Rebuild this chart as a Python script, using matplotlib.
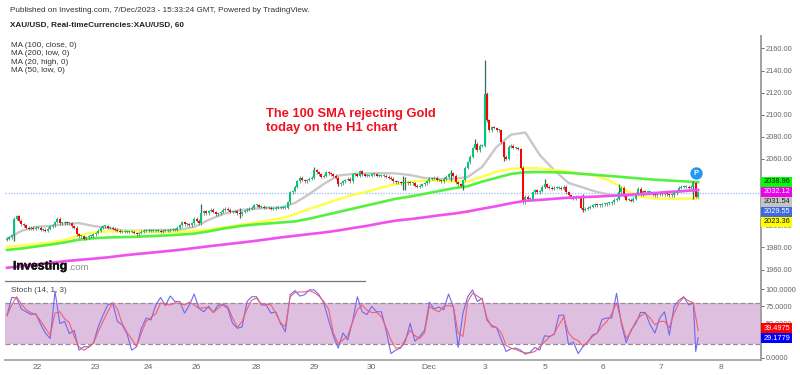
import numpy as np
import matplotlib
matplotlib.use('Agg')
import matplotlib.pyplot as plt
import matplotlib.patheffects as pe
from matplotlib.patches import Rectangle

plt.rcParams['font.family'] = ['Liberation Sans', 'DejaVu Sans']

# hourly closes, one per bar
closes = [1988, 1989, 1991, 2006, 2008, 2004, 2001, 2000, 1998, 1997, 1998, 1997,
          1998, 1998, 1996, 1996, 1995, 1997, 1999, 2000, 2003, 2006, 2002, 2002,
          2003, 2002, 2002, 1999, 1998, 1992, 1990, 1990, 1988, 1989, 1990, 1990,
          1992, 1993, 1995, 1998, 1999, 1999, 1998, 1998, 1997, 1996, 1995, 1994,
          1994, 1994, 1994, 1994, 1994, 1993, 1992, 1993, 1994, 1995, 1995, 1995,
          1995, 1995, 1995, 1995, 1994, 1995, 1995, 1995, 1996, 1996, 1996, 1998,
          2000, 2003, 2001, 2001, 2000, 2002, 2006, 2004, 2002, 2011, 2013, 2011,
          2013, 2014, 2012, 2010, 2011, 2012, 2014, 2015, 2014, 2012, 2012, 2013,
          2011, 2010, 2012, 2013, 2014, 2015, 2016, 2018, 2018, 2017, 2017, 2016,
          2016, 2016, 2015, 2015, 2016, 2016, 2016, 2016, 2016, 2021, 2030, 2031,
          2035, 2040, 2043, 2041, 2040, 2041, 2042, 2043, 2050, 2048, 2046, 2044,
          2045, 2048, 2047, 2046, 2045, 2043, 2037, 2038, 2040, 2041, 2042, 2040,
          2046, 2046, 2045, 2049, 2046, 2045, 2045, 2045, 2046, 2046, 2045, 2045,
          2045, 2045, 2044, 2043, 2042, 2040, 2039, 2039, 2038, 2038, 2038, 2039,
          2038, 2038, 2036, 2035, 2036, 2037, 2038, 2040, 2042, 2042, 2043, 2041,
          2041, 2040, 2042, 2044, 2046, 2047, 2045, 2039, 2037, 2036, 2041, 2052,
          2057, 2062, 2070, 2074, 2068, 2072, 2072, 2119, 2095, 2086, 2089, 2088,
          2086, 2086, 2075, 2062, 2060, 2071, 2072, 2070, 2070, 2069, 2052, 2021,
          2026, 2024, 2024, 2030, 2032, 2030, 2031, 2035, 2037, 2035, 2034, 2033,
          2034, 2034, 2034, 2033, 2035, 2030, 2027, 2025, 2024, 2026, 2026, 2016,
          2014, 2015, 2016, 2017, 2018, 2019, 2018, 2018, 2019, 2019, 2020, 2020,
          2021, 2023, 2024, 2030, 2034, 2027, 2023, 2023, 2022, 2024, 2029, 2033,
          2028, 2031, 2030, 2030, 2030, 2028, 2027, 2028, 2029, 2028, 2029, 2028,
          2027, 2027, 2029, 2031, 2034, 2035, 2035, 2035, 2034, 2035, 2038, 2026,
          2030]
first_open = 1987

# bars with a wick long enough to see
wick_bars = [3, 81, 97, 128, 138, 165, 166, 185, 190, 195, 199, 200, 207, 224, 240, 255, 286]
wick_highs = [2006, 2019, 2016, 2053, 2040, 2045, 2044, 2050, 2040, 2078, 2150, 2120, 2075, 2042, 2028, 2037, 2040]
wick_lows = [1986, 2006, 2007, 2044, 2036, 2032, 2032, 2040, 2032, 2070, 2074, 2094, 2058, 2034, 2012, 2024, 2024]

# moving averages, one reading every 6 bars
ma_step = 6
ma20_high = [1987.6, 1995, 1998.5, 1999.4, 2001, 2002, 1999.4, 1997.6, 1995.3, 1995, 1995.7, 1995.7,
             1996, 1998.5, 2004.8, 2010.2, 2013.4, 2014.8, 2015.7, 2016, 2020.2, 2028.3, 2037.4, 2045,
             2046.4, 2046.9, 2047.3, 2046.9, 2045.5, 2042.8, 2042, 2042, 2043.7, 2052.8, 2070.9, 2082,
             2084, 2063.6, 2050, 2038.3, 2034.2, 2030, 2027.4, 2026.5, 2027.4, 2028.3, 2029.2, 2031, 2031.5]
ma50_low = [1980.6, 1981.5, 1983, 1984.5, 1986.5, 1991, 1993.5, 1994.5, 1994.5, 1994.5, 1994, 1994,
            1994, 1995, 1996, 1998, 2000, 2002, 2004, 2006, 2010, 2015, 2019, 2023.5,
            2027.5, 2030.4, 2034, 2037.4, 2039.4, 2040.4, 2040.4, 2039.7, 2039.5, 2044, 2048.5, 2051,
            2052, 2051.5, 2050, 2048.5, 2046.5, 2044.5, 2039.5, 2031.5, 2026, 2024.3, 2024, 2024.2, 2024]
ma100_close = [1977.7, 1979, 1980.8, 1982.5, 1984.5, 1987, 1988.3, 1989, 1989.3, 1989.6, 1990.2, 1990.8,
               1991.5, 1992.5, 1994.5, 1997, 1999, 2000.5, 2001.5, 2002.5, 2003.5, 2006, 2009, 2012,
               2015, 2018, 2021, 2024, 2026, 2028.5, 2031, 2033.5, 2035.3, 2039.5, 2043, 2046.5,
               2048, 2048.2, 2048, 2047.5, 2046.5, 2045.5, 2044.5, 2043.4, 2042.3, 2041.3, 2040.5, 2039.8, 2039]
ma200_low = [1961.6, 1963, 1964.5, 1966, 1967.5, 1968.7, 1969.8, 1971, 1972.6, 1974, 1975.2, 1976.5,
             1977.8, 1979.4, 1981, 1982.5, 1984, 1985.5, 1987.2, 1989, 1990.5, 1992, 1993.5, 1995.3,
             1997.5, 1999.5, 2002, 2004.2, 2005.6, 2007.2, 2009, 2010.5, 2012.5, 2015, 2017.3, 2020,
             2022.2, 2023, 2024, 2025, 2025.5, 2026, 2026.7, 2027.5, 2028.3, 2029.2, 2030.2, 2031, 2032.1]

# stochastic, one reading every 2 bars, then the last few bars
stoch_step = 2
stoch_k = [62, 88, 87, 71, 67, 63, 64, 49, 36, 28, 97, 50, 53, 35, 40, 11, 16, 16, 21, 45, 62, 77, 80, 53,
           48, 35, 11, 16, 43, 58, 55, 77, 88, 76, 90, 82, 82, 65, 77, 93, 72, 67, 75, 66, 77, 77, 72, 50,
           43, 45, 82, 89, 89, 77, 77, 65, 67, 50, 38, 92, 98, 90, 92, 99, 99, 92, 80, 55, 32, 14, 36, 26,
           53, 89, 67, 63, 75, 67, 67, 40, 6, 11, 14, 24, 50, 24, 31, 40, 81, 71, 74, 70, 93, 74, 15, 65,
           89, 99, 82, 87, 55, 47, 44, 26, 9, 13, 14, 11, 5, 8, 15, 11, 32, 31, 34, 62, 62, 19, 23, 6,
           16, 23, 33, 36, 56, 58, 58, 94, 50, 22, 40, 50, 66, 66, 48, 36, 58, 67, 33, 75, 84, 89, 77, 80]
stoch_d = [61, 77, 89, 78, 70, 66, 63, 54, 43, 33, 65, 67, 57, 51, 31, 16, 11, 15, 21, 38, 53, 67, 80, 71,
           50, 37, 27, 16, 36, 53, 59, 64, 80, 78, 77, 80, 79, 77, 81, 77, 72, 73, 73, 66, 72, 78, 75, 58,
           44, 53, 71, 84, 87, 78, 78, 77, 65, 51, 45, 89, 95, 96, 96, 98, 95, 90, 82, 71, 36, 21, 26, 32,
           52, 70, 77, 69, 66, 66, 60, 44, 26, 14, 15, 27, 40, 32, 28, 36, 75, 70, 67, 75, 76, 75, 36, 31,
           82, 94, 90, 85, 58, 45, 44, 36, 18, 14, 12, 9, 7, 7, 9, 16, 23, 30, 35, 48, 59, 36, 28, 25,
           17, 23, 31, 36, 46, 53, 64, 80, 53, 28, 38, 53, 61, 65, 58, 48, 53, 53, 44, 65, 80, 88, 83, 80]
stoch_end_bars = [287, 288]
stoch_end_k = [9, 29.18]
stoch_end_d = [60, 39.5]

# x axis labels and the bars they sit under
date_ticks = [12.5, 36.7, 58.75, 78.75, 103.75, 127.9, 151.7, 175.8, 199, 224.2, 248.3, 272.5, 297.5]
date_labels = ['22', '23', '24', '26', '28', '29', '30', 'Dec', '3', '5', '6', '7', '8']
price_ticks = [1960, 1980, 2000, 2060, 2080, 2100, 2120, 2140, 2160]
stoch_ticks = [0, 50, 75, 100]

last_close = 2029.55
marker_bar = 287
marker_price = 2047

ma_names = ['MA (100, close, 0)', 'MA (200, low, 0)', 'MA (20, high, 0)', 'MA (50, low, 0)']
price_labels = ['2038.96', '2032.12', '2031.54', '2029.55', '2023.36']
price_label_colors = ['#00ff00', '#ee00ee', '#c4c4c4', '#4169e1', '#ffff00']
price_label_text = ['#111111', 'white', '#222222', 'white', '#111111']
stoch_labels = ['39.4975', '29.1779']
stoch_label_colors = ['#ff0000', '#0000ff']

W, H = 800, 375
GREY = '#a0a0a0'
TICK = '#666666'
SMALL = 5.3
TEXT = 5.9


def px_rect(left, top, right, bottom):
    return [left / W, 1 - bottom / H, (right - left) / W, (bottom - top) / H]


def draw_candles(ax):
    n = len(closes)
    bars = np.arange(n)
    opens = np.array([first_open] + closes[:-1], dtype=float)
    close = np.array(closes, dtype=float)
    top = np.maximum(opens, close)
    bottom = np.minimum(opens, close)
    ax.vlines(bars, bottom - 1.3, top + 1.3, color='#4c6a60', lw=0.5, zorder=3)
    ax.vlines(wick_bars, wick_lows, wick_highs, color='#3c6a5a', lw=0.9, zorder=3)
    colors = ['#00c878' if c >= o else '#ff0000' for o, c in zip(opens, close)]
    ax.bar(bars, np.maximum(top - bottom, 0.9), bottom=bottom, width=0.85, color=colors, zorder=4)


def draw_price(ax):
    ma_bars = np.arange(len(ma20_high)) * ma_step
    ax.axhline(last_close, color='#a8c4f4', lw=1, ls=(0, (1, 1)), zorder=1)
    ax.plot(ma_bars, ma20_high, color='#c8c8c8', lw=1.7, zorder=2)
    ax.plot(ma_bars, ma50_low, color='#ffff44', lw=1.7, zorder=2)
    ax.plot(ma_bars, ma100_close, color='#55f040', lw=1.9, zorder=2)
    draw_candles(ax)
    ax.plot(ma_bars, ma200_low, color='#f050f0', lw=1.9, zorder=5)
    ax.scatter([marker_bar], [marker_price], s=62, color='#2196f3', zorder=6)
    ax.text(marker_bar, marker_price, 'P', color='white', fontsize=5.5, fontweight='bold',
            ha='center', va='center', zorder=7)
    ax.set_ylim(1949.6, 2171.3)
    ax.set_yticks(price_ticks)
    ax.set_yticklabels([f'{p:.2f}' for p in price_ticks])
    ax.set_xticks([])


def draw_stoch(ax):
    bars = np.arange(len(stoch_k)) * stoch_step
    k_bars = list(bars) + stoch_end_bars
    ax.axhspan(20, 80, color='#dfbfdf', lw=0, zorder=1)
    ax.axhline(80, color='#9a8a9a', lw=0.9, ls=(0, (4, 2)), zorder=2)
    ax.axhline(20, color='#9a8a9a', lw=0.9, ls=(0, (4, 2)), zorder=2)
    ax.plot(k_bars, stoch_k + stoch_end_k, color='#7068ee', lw=0.8, zorder=3)
    ax.plot(k_bars, stoch_d + stoch_end_d, color='#f06070', lw=0.8, zorder=4)
    ax.set_ylim(-3.4, 112)
    ax.set_yticks(stoch_ticks)
    ax.set_yticklabels([f'{s:.4f}' for s in stoch_ticks])
    ax.set_xticks(date_ticks)
    ax.set_xticklabels(date_labels)
    ax.plot([0, 0.476], [1, 1], transform=ax.transAxes, color='#777777', lw=0.9, clip_on=False)


def style_axis(ax):
    ax.set_xlim(-0.83, 314.2)
    ax.yaxis.tick_right()
    for side in ['top', 'left']:
        ax.spines[side].set_visible(False)
    ax.spines['bottom'].set_visible(False)
    ax.spines['right'].set_color(GREY)
    ax.spines['right'].set_linewidth(1.4)
    ax.tick_params(axis='y', colors=TICK, labelsize=SMALL, length=2, width=0.7, pad=1.5)
    ax.tick_params(axis='x', colors=TICK, labelsize=6, length=0, pad=3)


def side_label(fig, y, text, bg, fg):
    fig.add_artist(Rectangle((761 / W, 1 - (y + 5) / H), 31 / W, 10 / H, transform=fig.transFigure,
                             facecolor=bg, edgecolor='none', zorder=5))
    fig.text(777 / W, 1 - y / H, text, color=fg, fontsize=SMALL, ha='center', va='center', zorder=6)


def draw_texts(fig):
    fig.text(10 / W, 1 - 11 / H, 'Published on Investing.com, 7/Dec/2023 - 15:33:24 GMT, Powered by TradingView.',
             fontsize=TEXT, color='#333333', va='center')
    fig.text(10 / W, 1 - 25 / H, 'XAU/USD, Real-timeCurrencies:XAU/USD, 60',
             fontsize=TEXT, fontweight='bold', color='#222222', va='center')
    for i, name in enumerate(ma_names):
        fig.text(11 / W, 1 - (45.5 + i * 8.4) / H, name, fontsize=TEXT, color='#333333', va='center')
    fig.text(266 / W, 1 - 113.5 / H, 'The 100 SMA rejecting Gold', fontsize=9.3, fontweight='bold',
             color='#f01020', va='center')
    fig.text(266 / W, 1 - 128.5 / H, 'today on the H1 chart', fontsize=9.3, fontweight='bold',
             color='#f01020', va='center')
    logo = fig.text(13 / W, 1 - 266.5 / H, 'Investing', fontsize=8.9, fontweight='bold', color='#111111',
                    va='center', zorder=6)
    logo.set_path_effects([pe.withStroke(linewidth=0.3, foreground='#111111')])
    fig.text(68 / W, 1 - 267.5 / H, '.com', fontsize=6.8, color='#909090', va='center', zorder=6)
    fig.text(11 / W, 1 - 290 / H, 'Stoch (14, 1, 3)', fontsize=TEXT, color='#444444', va='center', zorder=6)
    for i in range(len(price_labels)):
        side_label(fig, 181.7 + i * 10, price_labels[i], price_label_colors[i], price_label_text[i])
    for i in range(len(stoch_labels)):
        side_label(fig, 328.3 + i * 10, stoch_labels[i], stoch_label_colors[i], 'white')


def create_graph():
    fig = plt.figure(figsize=(W / 100, H / 100), dpi=100)
    ax_price = fig.add_axes(px_rect(5, 36, 761, 281))
    ax_stoch = fig.add_axes(px_rect(5, 281, 761, 360))
    draw_price(ax_price)
    draw_stoch(ax_stoch)
    style_axis(ax_price)
    style_axis(ax_stoch)
    ax_stoch.spines['bottom'].set_visible(True)
    ax_stoch.spines['bottom'].set_color(GREY)
    ax_stoch.spines['bottom'].set_linewidth(1.2)
    draw_texts(fig)
    fig.savefig('out.png', dpi=100)


def main():
    create_graph()


if __name__ == '__main__':
    main()
